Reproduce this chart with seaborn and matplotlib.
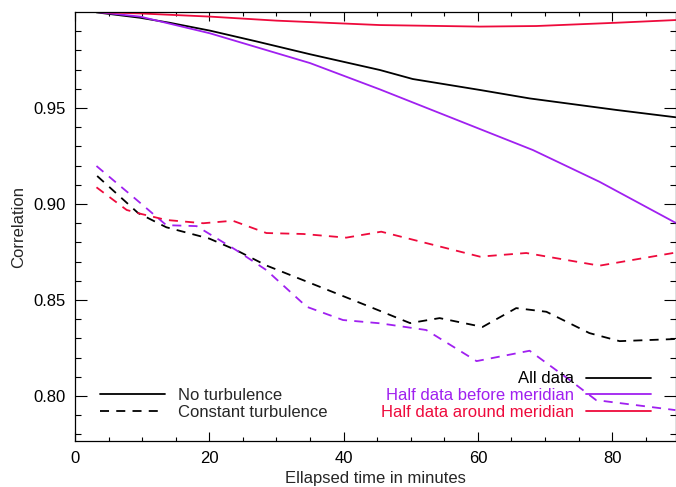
import numpy as np
import pandas as pd
import matplotlib
matplotlib.use("Agg")
import matplotlib.pyplot as plt
import seaborn as sns
from matplotlib.lines import Line2D
from matplotlib.ticker import MultipleLocator, FixedLocator

# ---- data ----
all_nt_x = [3.2, 9.7, 14.1, 20.1, 27.0, 35.0, 45.4, 50.3, 60.3, 67.7, 80.6, 89.4]
all_nt_y = [0.9998, 0.9970, 0.9944, 0.9903, 0.9847, 0.9780, 0.9698, 0.9651, 0.9594, 0.9550, 0.9490, 0.9452]
before_nt_x = [3.2, 9.7, 20.1, 30.0, 35.0, 45.4, 55.0, 68.2, 78.1, 89.4]
before_nt_y = [1.0, 0.9976, 0.9889, 0.9786, 0.9734, 0.9597, 0.9464, 0.9281, 0.9116, 0.8903]
around_nt_x = [3.2, 10.0, 20.1, 30.0, 45.4, 60.3, 68.7, 80.6, 89.4]
around_nt_y = [1.0, 0.9992, 0.9976, 0.9955, 0.9932, 0.9924, 0.9927, 0.9944, 0.9958]

all_ct_x = [3.3, 9.4, 13.6, 20.0, 24.0, 28.5, 43.9, 49.9, 54.3, 60.7, 65.7, 70.2, 76.6, 81.1, 89.4]
all_ct_y = [0.9146, 0.8953, 0.8879, 0.8820, 0.8760, 0.8680, 0.8465, 0.8380, 0.8406, 0.8360, 0.8458, 0.8439, 0.8328, 0.8286, 0.8297]
before_ct_x = [3.2, 9.2, 13.6, 18.1, 24.0, 28.5, 34.5, 39.9, 45.4, 52.3, 59.8, 67.7, 73.7, 77.6, 89.4]
before_ct_y = [0.9198, 0.9021, 0.8890, 0.8885, 0.8760, 0.8656, 0.8465, 0.8396, 0.8379, 0.8344, 0.8182, 0.8236, 0.8083, 0.7979, 0.7927]
around_ct_x = [3.2, 7.7, 9.9, 13.6, 19.1, 23.5, 28.5, 34.0, 40.4, 45.6, 60.3, 67.2, 78.1, 89.4]
around_ct_y = [0.9087, 0.8969, 0.8948, 0.8917, 0.8900, 0.8913, 0.8849, 0.8844, 0.8825, 0.8856, 0.8726, 0.8745, 0.8679, 0.8747]

datasets = ["All data", "Half data before meridian", "Half data around meridian"]
turbulence = ["No turbulence", "Constant turbulence"]
y_ticks = [0.80, 0.85, 0.90, 0.95]
y_tick_labels = ["0.80", "0.85", "0.90", "0.95"]
colors = {"All data": "black", "Half data before meridian": "#a020f0",
          "Half data around meridian": "#ee0a3c"}

series = [
    ("All data", "No turbulence", all_nt_x, all_nt_y),
    ("Half data before meridian", "No turbulence", before_nt_x, before_nt_y),
    ("Half data around meridian", "No turbulence", around_nt_x, around_nt_y),
    ("All data", "Constant turbulence", all_ct_x, all_ct_y),
    ("Half data before meridian", "Constant turbulence", before_ct_x, before_ct_y),
    ("Half data around meridian", "Constant turbulence", around_ct_x, around_ct_y),
]
rows = []
for d, t, xs, ys in series:
    for x, y in zip(xs, ys):
        rows.append({"x": x, "y": y, "dataset": d, "turb": t})
df = pd.DataFrame(rows)

sns.set_style("ticks")
plt.rcParams["font.family"] = ["Liberation Sans", "DejaVu Sans"]

fig = plt.figure(figsize=(6.76, 4.87), dpi=100)
ax = fig.add_axes([75 / 676, 1 - 441 / 487, 601 / 676, 429 / 487])

lw = 1.3
sns.lineplot(data=df, x="x", y="y", hue="dataset", style="turb",
             hue_order=datasets, style_order=turbulence, palette=colors,
             dashes={"No turbulence": "", "Constant turbulence": (5, 4)},
             estimator=None, sort=False, linewidth=lw, legend=False, ax=ax)

ax.set_xlim(0, 89.5)
ax.set_ylim(0.7766, 1.0)
ax.xaxis.set_major_locator(MultipleLocator(20))
ax.xaxis.set_minor_locator(MultipleLocator(5))
ax.set_yticks(y_ticks, y_tick_labels)
ax.yaxis.set_minor_locator(FixedLocator([0.78, 0.79, 0.81, 0.82, 0.83, 0.84, 0.86, 0.87, 0.88,
                                         0.89, 0.91, 0.92, 0.93, 0.94, 0.96, 0.97, 0.98, 0.99]))
ax.tick_params(which="both", direction="in", top=True, right=True, labelsize=12,
               width=0.8, colors="black")
ax.tick_params(axis="x", which="major", length=6.2, pad=7)
ax.tick_params(axis="x", which="minor", length=3)
ax.tick_params(axis="y", which="major", length=8.7, pad=7)
ax.tick_params(axis="y", which="minor", length=4.3)
for s in ax.spines.values():
    s.set_linewidth(0.9)
    s.set_color("black")
ax.set_xlabel("Ellapsed time in minutes", fontsize=12, labelpad=4)
ax.set_ylabel("Correlation", fontsize=12, labelpad=5)

h1 = [Line2D([], [], color="black", lw=lw),
      Line2D([], [], color="black", lw=lw, dashes=(5, 4))]
leg1 = ax.legend(h1, turbulence, loc="lower left", bbox_to_anchor=(0.028, 0.03),
                 frameon=False, fontsize=12, handlelength=3.9, handletextpad=0.75,
                 labelspacing=0.1, borderpad=0)
ax.add_artist(leg1)
h2 = [Line2D([], [], color=colors[d], lw=lw) for d in datasets]
leg2 = ax.legend(h2, datasets, loc="lower right", bbox_to_anchor=(0.973, 0.03),
                 frameon=False, fontsize=12, handlelength=3.9, handletextpad=0.75,
                 labelspacing=0.1, borderpad=0, markerfirst=False,
                 labelcolor="linecolor")

fig.savefig("out.png", dpi=100)
